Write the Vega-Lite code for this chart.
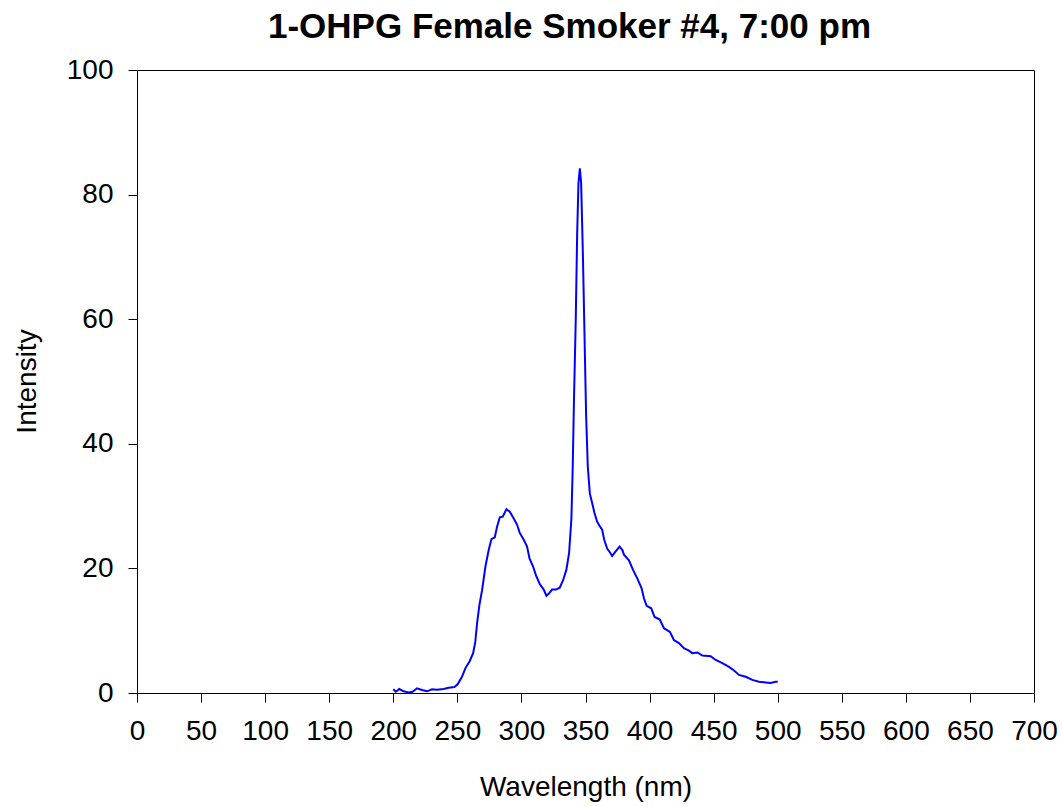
{
  "$schema": "https://vega.github.io/schema/vega-lite/v6.json",
  "width": 897,
  "height": 623,
  "autosize": {"type": "none"},
  "padding": {"left": 137, "top": 70, "right": 28, "bottom": 114},
  "background": "white",
  "title": {
    "text": "1-OHPG Female Smoker #4, 7:00 pm",
    "font": "Liberation Sans",
    "fontSize": 35,
    "fontWeight": "bold",
    "color": "black",
    "anchor": "middle",
    "frame": "group",
    "dx": -16,
    "dy": 46,
    "baseline": "bottom",
    "offset": 22
  },
  "config": {
    "view": {"stroke": "black", "strokeWidth": 1},
    "axis": {
      "labelFont": "Liberation Sans",
      "titleFont": "Liberation Sans",
      "labelFontSize": 28,
      "titleFontSize": 28,
      "titleFontWeight": "normal",
      "labelColor": "black",
      "titleColor": "black",
      "domainColor": "black",
      "tickColor": "black",
      "domainWidth": 1,
      "tickWidth": 1,
      "tickSize": 9,
      "grid": false
    }
  },
  "data": {
    "values": [
      {"wl": 200, "intensity": 0.6},
      {"wl": 202, "intensity": 0.2},
      {"wl": 204.7, "intensity": 0.64},
      {"wl": 208, "intensity": 0.27},
      {"wl": 212, "intensity": 0.1},
      {"wl": 215, "intensity": 0.2},
      {"wl": 218.5, "intensity": 0.75},
      {"wl": 222.4, "intensity": 0.48},
      {"wl": 226.3, "intensity": 0.27},
      {"wl": 230.2, "intensity": 0.59},
      {"wl": 234, "intensity": 0.53},
      {"wl": 239.3, "intensity": 0.64},
      {"wl": 243.2, "intensity": 0.85},
      {"wl": 247.7, "intensity": 0.96},
      {"wl": 250.2, "intensity": 1.4},
      {"wl": 253.6, "intensity": 2.6},
      {"wl": 256.3, "intensity": 4.0},
      {"wl": 259.6, "intensity": 5.1},
      {"wl": 262.3, "intensity": 6.4},
      {"wl": 264, "intensity": 8.2},
      {"wl": 265.4, "intensity": 11.2},
      {"wl": 267.2, "intensity": 14.1},
      {"wl": 269.3, "intensity": 16.5},
      {"wl": 271.9, "intensity": 20.3},
      {"wl": 274.5, "intensity": 23.0},
      {"wl": 276.6, "intensity": 24.7},
      {"wl": 279.2, "intensity": 25.0},
      {"wl": 281, "intensity": 26.7},
      {"wl": 283.1, "intensity": 28.2},
      {"wl": 285.4, "intensity": 28.3},
      {"wl": 288.3, "intensity": 29.5},
      {"wl": 290.9, "intensity": 29.1},
      {"wl": 294, "intensity": 28.0},
      {"wl": 296.6, "intensity": 27.0},
      {"wl": 298.7, "intensity": 25.7},
      {"wl": 301.8, "intensity": 24.6},
      {"wl": 304.4, "intensity": 23.5},
      {"wl": 306.3, "intensity": 21.6},
      {"wl": 309.1, "intensity": 20.3},
      {"wl": 311.5, "intensity": 18.8},
      {"wl": 314.3, "intensity": 17.5},
      {"wl": 317.4, "intensity": 16.6},
      {"wl": 319.5, "intensity": 15.6},
      {"wl": 321.6, "intensity": 16.0},
      {"wl": 323.9, "intensity": 16.6},
      {"wl": 327, "intensity": 16.6},
      {"wl": 329.9, "intensity": 16.9},
      {"wl": 332.5, "intensity": 18.1},
      {"wl": 335.1, "intensity": 19.8},
      {"wl": 337.2, "intensity": 22.5},
      {"wl": 339, "intensity": 28},
      {"wl": 340, "intensity": 36},
      {"wl": 341, "intensity": 47},
      {"wl": 342.4, "intensity": 60},
      {"wl": 343.5, "intensity": 73.8},
      {"wl": 344.5, "intensity": 81.8},
      {"wl": 345.6, "intensity": 84.2},
      {"wl": 346.6, "intensity": 81.8},
      {"wl": 347.9, "intensity": 71},
      {"wl": 349.2, "intensity": 57.7},
      {"wl": 350.5, "intensity": 44.4},
      {"wl": 351.8, "intensity": 36.3},
      {"wl": 353.4, "intensity": 32},
      {"wl": 355.2, "intensity": 30.5},
      {"wl": 357, "intensity": 28.9},
      {"wl": 359.1, "intensity": 27.5},
      {"wl": 361, "intensity": 26.8},
      {"wl": 363, "intensity": 26.2},
      {"wl": 364.6, "intensity": 24.6},
      {"wl": 366.9, "intensity": 23.2},
      {"wl": 369, "intensity": 22.6},
      {"wl": 370.8, "intensity": 22.0},
      {"wl": 373.4, "intensity": 22.7},
      {"wl": 376.6, "intensity": 23.5},
      {"wl": 378.9, "intensity": 22.9},
      {"wl": 380, "intensity": 22.2},
      {"wl": 383.9, "intensity": 21.3},
      {"wl": 387, "intensity": 19.8},
      {"wl": 390.4, "intensity": 18.4},
      {"wl": 393.8, "intensity": 16.8},
      {"wl": 395.6, "intensity": 15.2},
      {"wl": 397.7, "intensity": 14.0},
      {"wl": 401.3, "intensity": 13.6},
      {"wl": 403.9, "intensity": 12.2},
      {"wl": 408, "intensity": 11.8},
      {"wl": 411.2, "intensity": 10.4},
      {"wl": 415.9, "intensity": 9.8},
      {"wl": 419, "intensity": 8.5},
      {"wl": 422.9, "intensity": 8.0},
      {"wl": 426.8, "intensity": 7.2},
      {"wl": 430.7, "intensity": 6.8},
      {"wl": 433.4, "intensity": 6.4},
      {"wl": 437.3, "intensity": 6.5},
      {"wl": 441.2, "intensity": 6.0},
      {"wl": 447.7, "intensity": 5.9},
      {"wl": 451.6, "intensity": 5.3},
      {"wl": 456.8, "intensity": 4.8},
      {"wl": 462, "intensity": 4.2},
      {"wl": 465.9, "intensity": 3.6},
      {"wl": 469.8, "intensity": 2.9},
      {"wl": 475, "intensity": 2.6},
      {"wl": 480.2, "intensity": 2.1},
      {"wl": 485.4, "intensity": 1.8},
      {"wl": 490.6, "intensity": 1.7},
      {"wl": 494.5, "intensity": 1.6},
      {"wl": 498.4, "intensity": 1.8},
      {"wl": 500, "intensity": 1.8}
    ]
  },
  "mark": {"type": "line", "color": "#0000FF", "strokeWidth": 2, "clip": true},
  "encoding": {
    "x": {
      "field": "wl",
      "type": "quantitative",
      "scale": {"domain": [0, 700], "nice": false, "zero": false},
      "axis": {
        "title": "Wavelength (nm)",
        "values": [0, 50, 100, 150, 200, 250, 300, 350, 400, 450, 500, 550, 600, 650, 700],
        "labelPadding": 15,
        "labelFlush": false,
        "labelOverlap": false,
        "titleBaseline": "alphabetic",
        "titleY": 102
      }
    },
    "y": {
      "field": "intensity",
      "type": "quantitative",
      "scale": {"domain": [0, 100], "nice": false},
      "axis": {
        "title": "Intensity",
        "values": [0, 20, 40, 60, 80, 100],
        "labelPadding": 15,
        "labelFlush": false,
        "labelOverlap": false,
        "titleBaseline": "alphabetic",
        "titleAngle": -90,
        "titleX": -102,
        "titleY": 311,
        "titleAlign": "center"
      }
    }
  }
}
